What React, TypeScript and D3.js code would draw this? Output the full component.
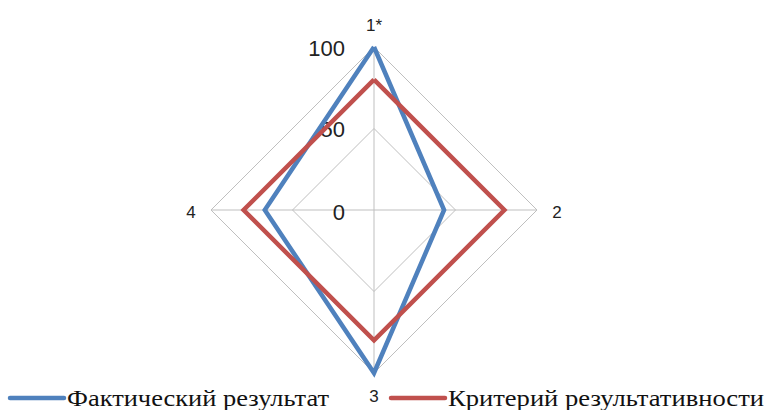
import * as d3 from "d3"
import { useRef, useEffect } from "react"

const categories = ["1*", "2", "3", "4"]
const actual = [100, 43, 100, 67]
const criterion = [80, 80, 80, 80]
const ticks = [0, 50, 100]
const seriesNames = ["Фактический результат", "Критерий результативности"]
const seriesColors = ["#4F81BD", "#C0504D"]

export default function App() {
  const svgRef = useRef<SVGSVGElement>(null)

  useEffect(() => {
    if (!svgRef.current) return
    const width = 768
    const height = 410
    const cx = 374
    const cy = 210

    const svg = d3.select(svgRef.current)
    svg.selectAll("*").remove()
    svg.attr("width", width).attr("height", height).attr("viewBox", `0 0 ${width} ${height}`)

    const r = d3.scaleLinear().domain([0, 100]).range([0, 163])
    const angle = d3
      .scaleLinear()
      .domain([0, categories.length])
      .range([0, 2 * Math.PI])

    const point = (v: number, i: number): [number, number] => {
      const a = angle(i)
      return [cx + r(v) * Math.sin(a), cy - r(v) * Math.cos(a)]
    }

    const g = svg.append("g")

    // grid rings
    ticks
      .filter((t) => t > 0)
      .forEach((t) => {
        const pts = categories.map((_, i) => point(t, i))
        g.append("path")
          .attr("d", d3.line()([...pts, pts[0]]) || "")
          .attr("fill", "none")
          .attr("stroke", "#BFBFBF")
          .attr("stroke-width", 1)
      })

    // spokes
    categories.forEach((_, i) => {
      const [x, y] = point(100, i)
      g.append("line")
        .attr("x1", cx)
        .attr("y1", cy)
        .attr("x2", x)
        .attr("y2", y)
        .attr("stroke", "#BFBFBF")
        .attr("stroke-width", 1)
    })

    // tick labels
    ticks.forEach((t) => {
      g.append("text")
        .attr("x", cx - 29)
        .attr("y", cy - r(t) + (t === 0 ? 2 : 1))
        .attr("dy", "0.36em")
        .attr("text-anchor", "end")
        .attr("font-family", "Liberation Sans, Arial, sans-serif")
        .attr("font-size", 22)
        .attr("fill", "#222")
        .text(t)
    })

    // series
    const series = [actual, criterion]
    series.forEach((vals, s) => {
      const pts = vals.map((v, i) => point(v, i))
      g.append("path")
        .attr("d", d3.line()([...pts, pts[0]]) || "")
        .attr("fill", "none")
        .attr("stroke", seriesColors[s])
        .attr("stroke-width", 4.5)
        .attr("stroke-linejoin", "miter")
    })

    // category labels
    const labelOffsets: [number, number][] = [
      [0, -22],
      [20, 2],
      [0, 23],
      [-20, 2],
    ]
    categories.forEach((c, i) => {
      const [x, y] = point(100, i)
      g.append("text")
        .attr("x", x + labelOffsets[i][0])
        .attr("y", y + labelOffsets[i][1])
        .attr("dy", "0.36em")
        .attr("text-anchor", "middle")
        .attr("font-family", "Liberation Sans, Arial, sans-serif")
        .attr("font-size", 17)
        .attr("fill", "#222")
        .text(c)
    })

    // legend
    const legendX = [10, 391]
    const legendTextLen = [262, 316]
    seriesNames.forEach((name, s) => {
      const lg = svg.append("g").attr("transform", `translate(${legendX[s]},398)`)
      lg.append("line")
        .attr("x1", 0)
        .attr("x2", 54)
        .attr("y1", 0)
        .attr("y2", 0)
        .attr("stroke", seriesColors[s])
        .attr("stroke-width", 4.5)
        .attr("stroke-linecap", "round")
      lg.append("text")
        .attr("x", 57)
        .attr("y", 8)
        .attr("font-family", "Liberation Serif, Times New Roman, serif")
        .attr("font-size", 23)
        .attr("textLength", legendTextLen[s])
        .attr("lengthAdjust", "spacingAndGlyphs")
        .attr("fill", "#111")
        .text(name)
    })
  }, [])

  return (
    <div style={{ position: "fixed", left: 0, top: 0, background: "#fff" }}>
      <svg ref={svgRef} style={{ display: "block" }}></svg>
    </div>
  )
}
